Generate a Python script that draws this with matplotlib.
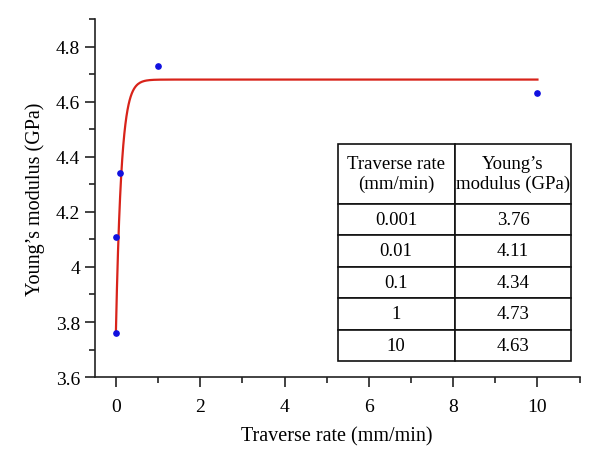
import numpy as np
import matplotlib
matplotlib.use("Agg")
import matplotlib.pyplot as plt
from matplotlib.ticker import MultipleLocator

# measured data
rate = [0.001, 0.01, 0.1, 1, 10]
modulus = [3.76, 4.11, 4.34, 4.73, 4.63]
rate_labels = ["0.001", "0.01", "0.1", "1", "10"]
modulus_labels = ["3.76", "4.11", "4.34", "4.73", "4.63"]

# fitted saturation curve parameters
plateau = 4.68
start = 3.76
tau = 0.13

plt.rcParams["font.family"] = ["Liberation Serif", "DejaVu Serif"]

fig = plt.figure(figsize=(6, 4.64), dpi=100)
ax = fig.add_axes([0.158, 0.185, 0.808, 0.772])

xf = np.linspace(0, 10, 400)
yf = plateau - (plateau - start) * np.exp(-xf / tau)
ax.plot(xf, yf, color="#d8231a", lw=1.6, zorder=2)
ax.plot(rate, modulus, "o", color="#1010e0", ms=3.8, zorder=3)

ax.set_xlim(-0.5, 11)
ax.set_ylim(3.6, 4.9)
ax.xaxis.set_major_locator(MultipleLocator(2))
ax.xaxis.set_minor_locator(MultipleLocator(1))
ax.yaxis.set_major_locator(MultipleLocator(0.2))
ax.yaxis.set_minor_locator(MultipleLocator(0.1))
ax.yaxis.set_major_formatter(plt.FuncFormatter(lambda v, p: f"{v:g}"))
for s in ["top", "right"]:
    ax.spines[s].set_visible(False)
for s in ["left", "bottom"]:
    ax.spines[s].set_linewidth(1.2)
    ax.spines[s].set_color("#222222")
ax.tick_params(which="major", length=7, width=1.2, labelsize=14, direction="out", color="#222222")
ax.tick_params(which="minor", length=4, width=1.2, direction="out", color="#222222")
ax.tick_params(axis="x", pad=8)
ax.set_xlabel("Traverse rate (mm/min)", fontsize=14.5, labelpad=8)
ax.set_ylabel("Young\u2019s modulus (GPa)", fontsize=14.5, labelpad=8)

cells = [[r, m] for r, m in zip(rate_labels, modulus_labels)]
tbl = ax.table(cellText=cells,
               colLabels=["Traverse rate\n(mm/min)", "Young\u2019s\nmodulus (GPa)"],
               cellLoc="center", bbox=[0.501, 0.045, 0.482, 0.606])
tbl.auto_set_font_size(False)
tbl.set_fontsize(13.5)
for (r, c), cell in tbl.get_celld().items():
    cell.set_linewidth(1.2)
    cell.set_edgecolor("#111111")
    cell.set_height(1.9 if r == 0 else 1.0)
    cell.set_width(1.0)

fig.savefig("out.png", dpi=100)
